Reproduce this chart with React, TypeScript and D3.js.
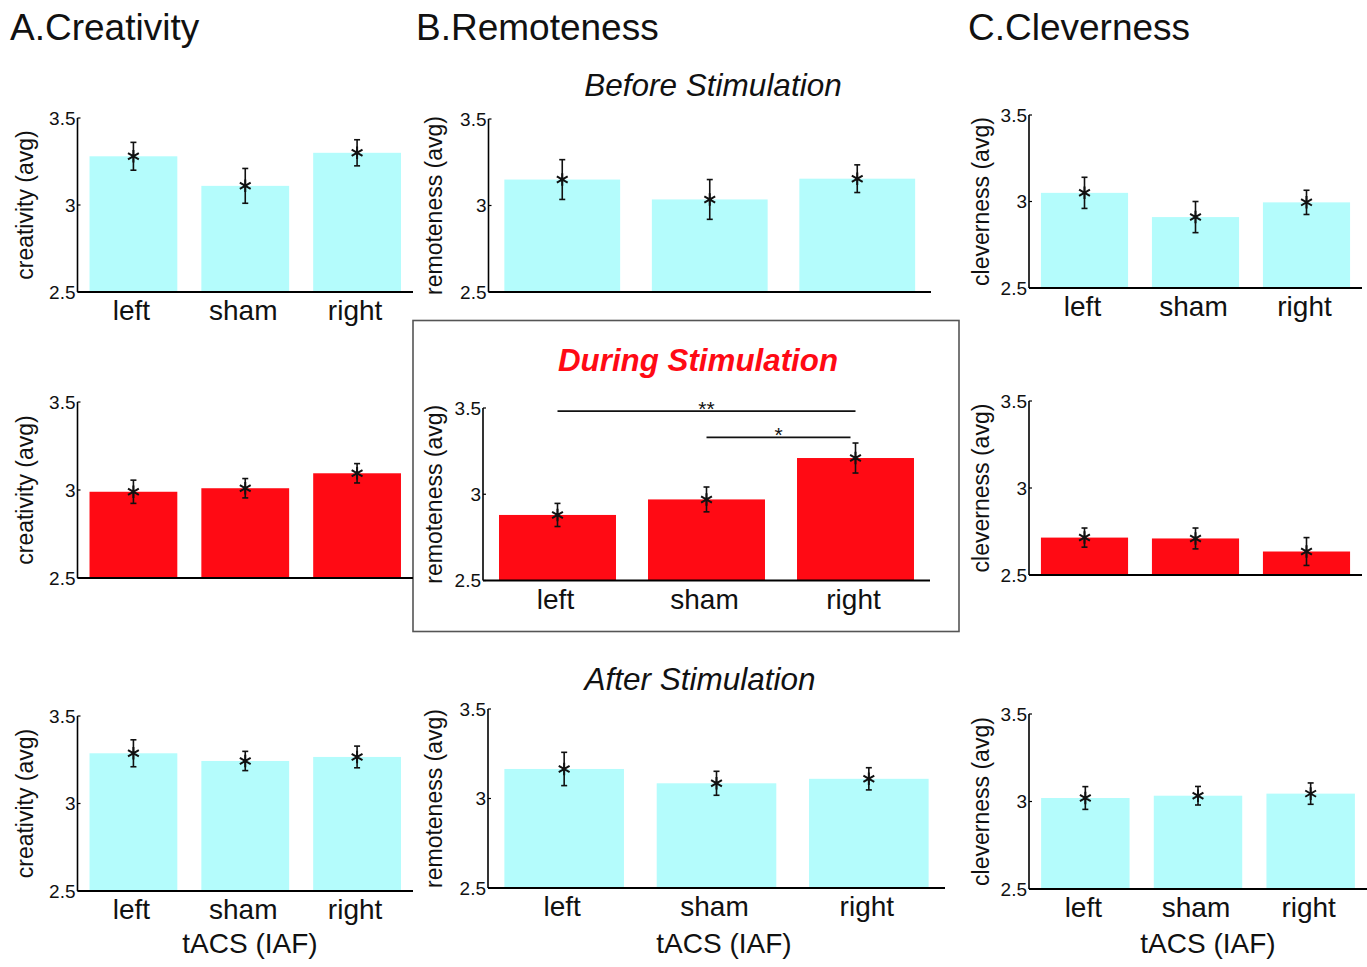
import React from "react";
import * as d3 from "d3";

const categories = ["left", "sham", "right"];
const yTicks = [2.5, 3, 3.5];

const creativityBefore = [3.28, 3.11, 3.3];
const creativityBeforeErr = [0.08, 0.1, 0.075];
const creativityDuring = [2.99, 3.01, 3.095];
const creativityDuringErr = [0.066, 0.055, 0.055];
const creativityAfter = [3.287, 3.243, 3.266];
const creativityAfterErr = [0.077, 0.055, 0.062];

const remotenessBefore = [3.15, 3.035, 3.155];
const remotenessBeforeErr = [0.115, 0.115, 0.08];
const remotenessDuring = [2.88, 2.97, 3.21];
const remotenessDuringErr = [0.067, 0.072, 0.087];
const remotenessAfter = [3.165, 3.085, 3.11];
const remotenessAfterErr = [0.093, 0.067, 0.062];

const clevernessBefore = [3.05, 2.91, 2.995];
const clevernessBeforeErr = [0.09, 0.09, 0.07];
const clevernessDuring = [2.715, 2.71, 2.635];
const clevernessDuringErr = [0.055, 0.06, 0.08];
const clevernessAfter = [3.02, 3.033, 3.045];
const clevernessAfterErr = [0.065, 0.053, 0.061];

const FONT = "'Liberation Sans', Arial, Helvetica, sans-serif";
const CYAN = "#b4fcfc";
const RED = "#ff0a14";

type PanelCfg = {
  key: string;
  values: number[];
  errs: number[];
  ylabel: string;
  color: string;
  x0: number;
  x1: number;
  yTop: number;
  yBot: number;
  labelX: number;
  showCats: boolean;
  xTitle?: string;
  xTitleX?: number;
};

const panels: PanelCfg[] = [
  { key: "A1", values: creativityBefore, errs: creativityBeforeErr, ylabel: "creativity (avg)", color: CYAN, x0: 77.5, x1: 413, yTop: 118, yBot: 292, labelX: 25, showCats: true },
  { key: "A2", values: creativityDuring, errs: creativityDuringErr, ylabel: "creativity (avg)", color: RED, x0: 77.5, x1: 413, yTop: 402, yBot: 578, labelX: 25, showCats: false },
  { key: "A3", values: creativityAfter, errs: creativityAfterErr, ylabel: "creativity (avg)", color: CYAN, x0: 77.5, x1: 413, yTop: 716, yBot: 891, labelX: 25, showCats: true, xTitle: "tACS (IAF)", xTitleX: 250 },
  { key: "B1", values: remotenessBefore, errs: remotenessBeforeErr, ylabel: "remoteness (avg)", color: CYAN, x0: 488.5, x1: 931, yTop: 119, yBot: 292, labelX: 434, showCats: false },
  { key: "B2", values: remotenessDuring, errs: remotenessDuringErr, ylabel: "remoteness (avg)", color: RED, x0: 483, x1: 930, yTop: 408, yBot: 580.5, labelX: 434, showCats: true },
  { key: "B3", values: remotenessAfter, errs: remotenessAfterErr, ylabel: "remoteness (avg)", color: CYAN, x0: 488, x1: 945, yTop: 709, yBot: 888, labelX: 434, showCats: true, xTitle: "tACS (IAF)", xTitleX: 724 },
  { key: "C1", values: clevernessBefore, errs: clevernessBeforeErr, ylabel: "cleverness (avg)", color: CYAN, x0: 1029, x1: 1362, yTop: 115, yBot: 288, labelX: 981, showCats: true },
  { key: "C2", values: clevernessDuring, errs: clevernessDuringErr, ylabel: "cleverness (avg)", color: RED, x0: 1029, x1: 1362, yTop: 401, yBot: 575, labelX: 981, showCats: false },
  { key: "C3", values: clevernessAfter, errs: clevernessAfterErr, ylabel: "cleverness (avg)", color: CYAN, x0: 1029, x1: 1367, yTop: 714, yBot: 889, labelX: 981, showCats: true, xTitle: "tACS (IAF)", xTitleX: 1208 },
];

// significance comparisons in the "during" remoteness panel
const sigPairs = [
  { from: "left", to: "right", level: 3.482, label: "**" },
  { from: "sham", to: "right", level: 3.33, label: "*" },
];

const asterisk = d3.symbol(d3.symbolAsterisk, 110)() as string;

function Panel({ p }: { p: PanelCfg }) {
  const x = d3
    .scaleBand<string>()
    .domain(categories)
    .range([p.x0, p.x1])
    .paddingInner(0.215)
    .paddingOuter(0.1075);
  const y = d3.scaleLinear().domain([2.5, 3.5]).range([p.yBot, p.yTop]);
  const bw = x.bandwidth();
  const cx = (c: string) => (x(c) as number) + bw / 2;
  const yMid = (p.yTop + p.yBot) / 2;
  return (
    <g>
      {categories.map((c, i) => (
        <rect key={c} x={x(c)} y={y(p.values[i])} width={bw} height={y(2.5) - y(p.values[i])} fill={p.color} />
      ))}
      {/* axes */}
      <line x1={p.x0} x2={p.x0} y1={y(3.5)} y2={y(2.5)} stroke="#000" strokeWidth={1.6} />
      <line x1={p.x0} x2={p.x1} y1={y(2.5)} y2={y(2.5)} stroke="#000" strokeWidth={2} />
      {yTicks.map((t) => (
        <g key={t}>
          <line x1={p.x0} x2={p.x0 + 3} y1={y(t)} y2={y(t)} stroke="#000" strokeWidth={1.2} />
          <text x={p.x0 - 2} y={y(t)} textAnchor="end" dominantBaseline="central" fontSize={19} fontFamily={FONT} fill="#111">
            {String(t)}
          </text>
        </g>
      ))}
      {/* error bars + mean markers */}
      {categories.map((c, i) => {
        const v = p.values[i];
        const e = p.errs[i];
        const xc = cx(c);
        return (
          <g key={"e" + c} stroke="#111" strokeWidth={1.6}>
            <line x1={xc} x2={xc} y1={y(v + e)} y2={y(v - e)} />
            <line x1={xc - 3} x2={xc + 3} y1={y(v + e)} y2={y(v + e)} />
            <line x1={xc - 3} x2={xc + 3} y1={y(v - e)} y2={y(v - e)} />
            <path d={asterisk} transform={`translate(${xc},${y(v)})`} fill="none" strokeWidth={2} />
          </g>
        );
      })}
      {p.showCats &&
        categories.map((c) => (
          <text key={"c" + c} x={cx(c) - 2} y={p.yBot + 28} textAnchor="middle" fontSize={28} fontFamily={FONT} fill="#111">
            {c}
          </text>
        ))}
      {p.xTitle && (
        <text x={p.xTitleX} y={953} textAnchor="middle" fontSize={28} fontFamily={FONT} fill="#111">
          {p.xTitle}
        </text>
      )}
      <text
        x={p.labelX}
        y={yMid}
        transform={`rotate(-90, ${p.labelX}, ${yMid})`}
        textAnchor="middle"
        dominantBaseline="central"
        fontSize={23}
        fontFamily={FONT}
        fill="#111"
      >
        {p.ylabel}
      </text>
      {p.key === "B2" &&
        sigPairs.map((s) => {
          const xa = cx(s.from);
          const xb = cx(s.to) - (s.from === "sham" ? 5 : 0);
          return (
            <g key={s.label}>
              <line x1={xa} x2={xb} y1={y(s.level)} y2={y(s.level)} stroke="#111" strokeWidth={1.6} />
              <text x={(xa + xb) / 2} y={y(s.level) + 5} textAnchor="middle" fontSize={21} fontFamily={FONT} fill="#111">
                {s.label}
              </text>
            </g>
          );
        })}
    </g>
  );
}

export default function App() {
  return (
    <div style={{ position: "absolute", left: 0, top: 0, background: "#fff" }}>
      <svg width={1367} height={967} viewBox="0 0 1367 967" style={{ display: "block" }}>
        <rect x={0} y={0} width={1367} height={967} fill="#fff" />
        <rect x={413} y={320.5} width={546} height={311} fill="none" stroke="#555" strokeWidth={1.6} />
        <text x={10} y={40} fontSize={37} fontFamily={FONT} fill="#111">A.Creativity</text>
        <text x={416} y={40} fontSize={37} fontFamily={FONT} fill="#111">B.Remoteness</text>
        <text x={968} y={40} fontSize={37} fontFamily={FONT} fill="#111">C.Cleverness</text>
        <text x={713} y={96} textAnchor="middle" fontSize={31.5} fontStyle="italic" fontFamily={FONT} fill="#111">
          Before Stimulation
        </text>
        <text
          x={698}
          y={371}
          textAnchor="middle"
          fontSize={32}
          fontStyle="italic"
          fontWeight="bold"
          fontFamily={FONT}
          fill={RED}
          textLength={280}
          lengthAdjust="spacingAndGlyphs"
        >
          During Stimulation
        </text>
        <text x={700} y={690} textAnchor="middle" fontSize={31.5} fontStyle="italic" fontFamily={FONT} fill="#111">
          After Stimulation
        </text>
        {panels.map((p) => (
          <Panel key={p.key} p={p} />
        ))}
      </svg>
    </div>
  );
}
